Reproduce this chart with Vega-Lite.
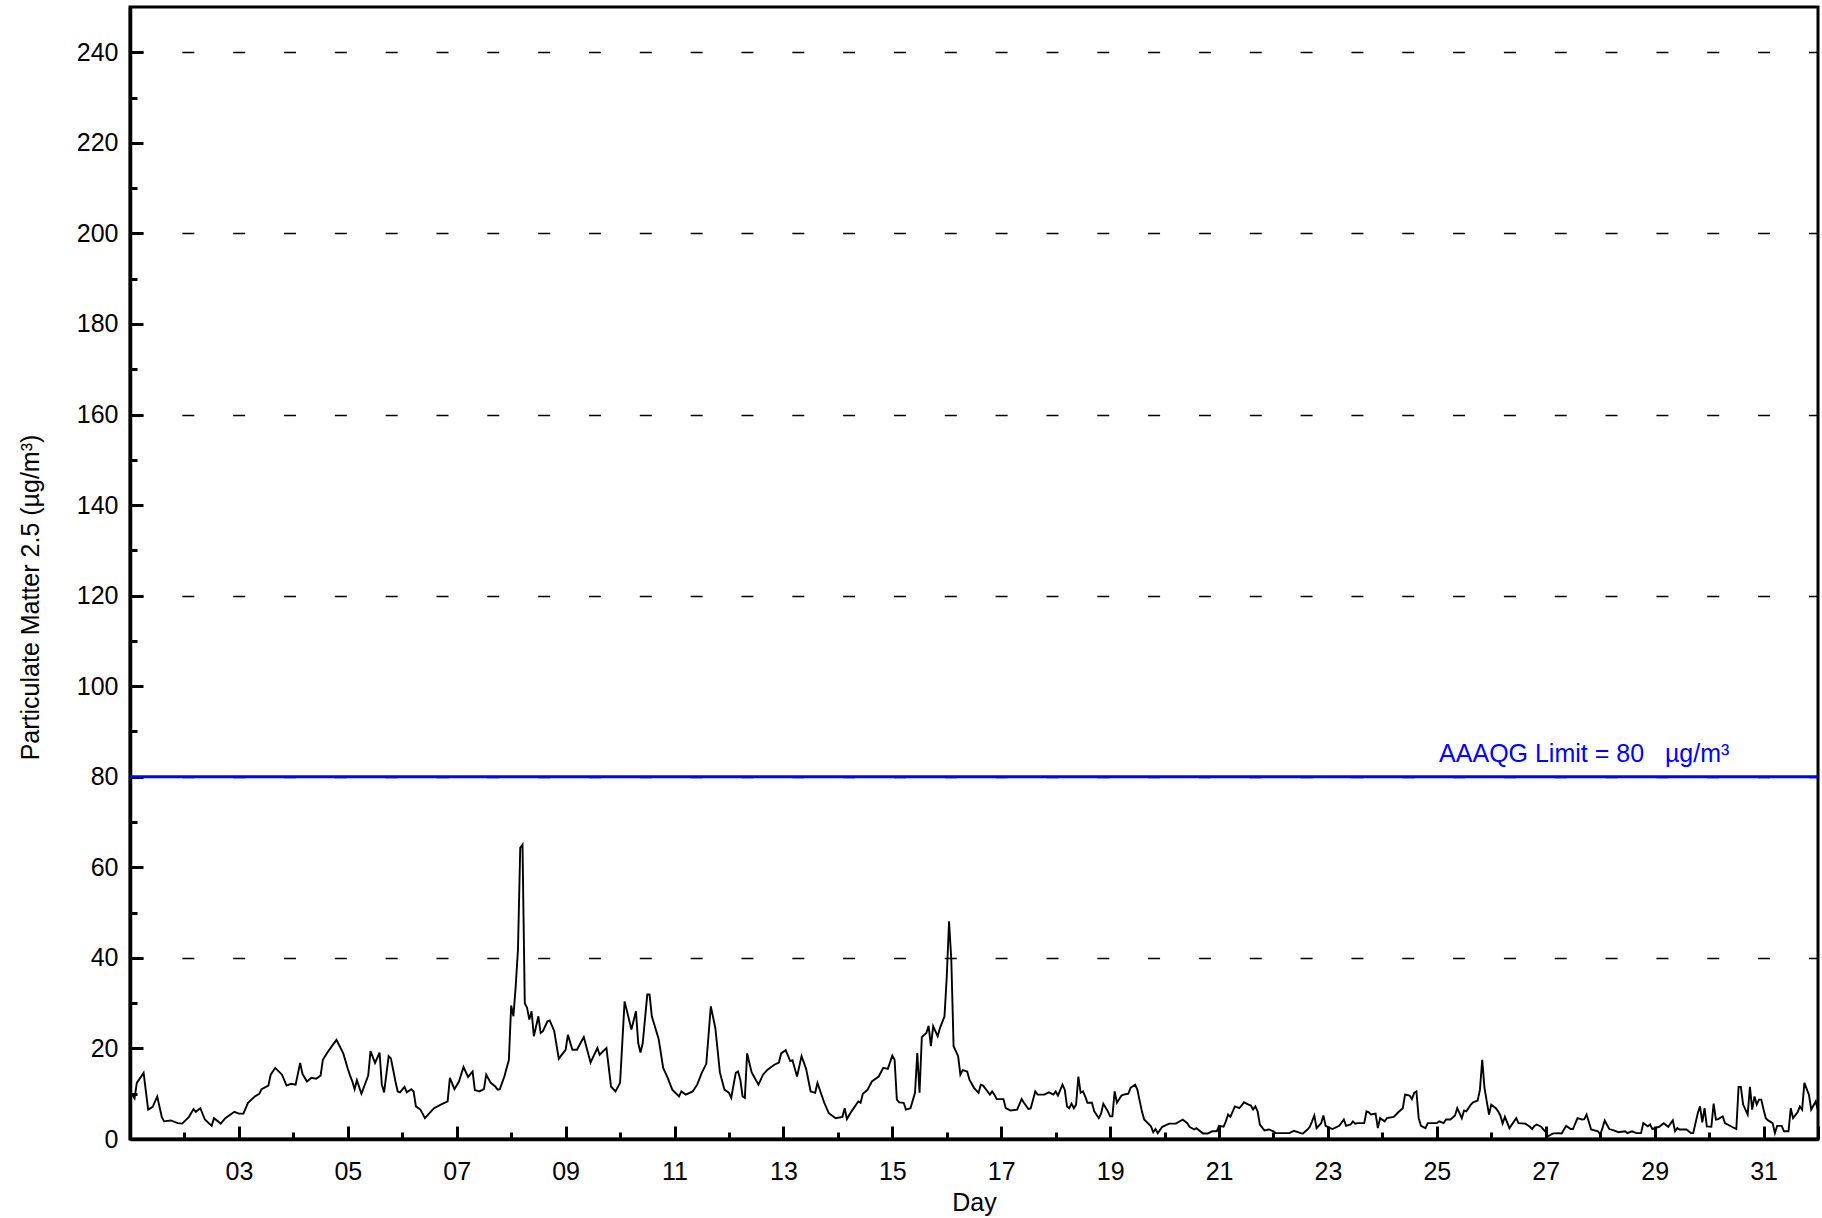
{
  "$schema": "https://vega.github.io/schema/vega-lite/v6.json",
  "width": 1688,
  "height": 1132,
  "autosize": {"type": "none"},
  "padding": {"left": 130, "top": 7, "right": 4, "bottom": 79},
  "background": "white",
  "config": {
    "font": "Liberation Sans",
    "view": {"stroke": "black", "strokeWidth": 3},
    "axis": {
      "domainColor": "black", "domainWidth": 3.5, "tickColor": "black", "tickWidth": 3,
      "labelColor": "black", "titleColor": "black", "labelFontSize": 25, "titleFontSize": 25,
      "titleFontWeight": "normal", "labelFont": "Liberation Sans", "titleFont": "Liberation Sans"
    }
  },
  "datasets": {
    "pm": [
      {"t":"2023-01-01T00:00","v":10.2},{"t":"2023-01-01T01:00","v":9.8},{"t":"2023-01-01T02:00","v":9.0},{"t":"2023-01-01T03:00","v":12.4},{"t":"2023-01-01T06:00","v":14.6},{"t":"2023-01-01T08:00","v":6.5},{"t":"2023-01-01T10:00","v":7.1},{"t":"2023-01-01T12:00","v":9.4},{"t":"2023-01-01T14:00","v":4.9},{"t":"2023-01-01T15:00","v":3.9},{"t":"2023-01-01T18:00","v":4.1},{"t":"2023-01-01T21:00","v":3.5},{"t":"2023-01-01T23:00","v":3.4},
      {"t":"2023-01-02T02:00","v":4.9},{"t":"2023-01-02T04:00","v":6.6},{"t":"2023-01-02T05:00","v":6.0},{"t":"2023-01-02T07:00","v":6.8},{"t":"2023-01-02T09:00","v":4.3},{"t":"2023-01-02T12:00","v":2.9},{"t":"2023-01-02T13:00","v":4.6},{"t":"2023-01-02T16:00","v":3.4},{"t":"2023-01-02T18:00","v":4.6},{"t":"2023-01-02T22:00","v":6.0},
      {"t":"2023-01-03T00:00","v":5.6},{"t":"2023-01-03T02:00","v":5.6},{"t":"2023-01-03T04:00","v":8.0},{"t":"2023-01-03T07:00","v":9.4},{"t":"2023-01-03T09:00","v":10.0},{"t":"2023-01-03T10:00","v":11.0},{"t":"2023-01-03T13:00","v":11.8},{"t":"2023-01-03T14:00","v":14.2},{"t":"2023-01-03T16:00","v":15.7},{"t":"2023-01-03T19:00","v":14.2},{"t":"2023-01-03T21:00","v":11.8},{"t":"2023-01-03T23:00","v":12.2},
      {"t":"2023-01-04T01:00","v":12.0},{"t":"2023-01-04T03:00","v":16.8},{"t":"2023-01-04T04:00","v":14.4},{"t":"2023-01-04T06:00","v":12.7},{"t":"2023-01-04T08:00","v":13.5},{"t":"2023-01-04T10:00","v":13.3},{"t":"2023-01-04T12:00","v":14.0},{"t":"2023-01-04T13:00","v":17.5},{"t":"2023-01-04T15:00","v":19.1},{"t":"2023-01-04T17:00","v":20.5},{"t":"2023-01-04T19:00","v":21.9},{"t":"2023-01-04T22:00","v":18.9},
      {"t":"2023-01-05T00:00","v":15.5},{"t":"2023-01-05T01:00","v":14.0},{"t":"2023-01-05T02:00","v":12.7},{"t":"2023-01-05T03:00","v":11.0},{"t":"2023-01-05T04:00","v":13.0},{"t":"2023-01-05T06:00","v":10.0},{"t":"2023-01-05T09:00","v":14.0},{"t":"2023-01-05T10:00","v":19.4},{"t":"2023-01-05T12:00","v":16.8},{"t":"2023-01-05T14:00","v":19.1},{"t":"2023-01-05T15:00","v":12.0},{"t":"2023-01-05T16:00","v":10.3},{"t":"2023-01-05T18:00","v":18.3},{"t":"2023-01-05T19:00","v":17.8},{"t":"2023-01-05T21:00","v":12.7},{"t":"2023-01-05T22:00","v":10.5},{"t":"2023-01-05T23:00","v":10.3},
      {"t":"2023-01-06T01:00","v":11.5},{"t":"2023-01-06T02:00","v":10.3},{"t":"2023-01-06T04:00","v":11.0},{"t":"2023-01-06T05:00","v":10.5},{"t":"2023-01-06T06:00","v":7.2},{"t":"2023-01-06T08:00","v":6.5},{"t":"2023-01-06T10:00","v":4.6},{"t":"2023-01-06T12:00","v":5.7},{"t":"2023-01-06T14:00","v":6.8},{"t":"2023-01-06T17:00","v":7.6},{"t":"2023-01-06T20:00","v":8.3},{"t":"2023-01-06T21:00","v":13.5},{"t":"2023-01-06T23:00","v":11.0},
      {"t":"2023-01-07T01:00","v":12.7},{"t":"2023-01-07T03:00","v":15.9},{"t":"2023-01-07T05:00","v":13.7},{"t":"2023-01-07T07:00","v":14.9},{"t":"2023-01-07T08:00","v":10.8},{"t":"2023-01-07T10:00","v":10.5},{"t":"2023-01-07T12:00","v":11.0},{"t":"2023-01-07T13:00","v":14.2},{"t":"2023-01-07T15:00","v":12.4},{"t":"2023-01-07T17:00","v":11.6},{"t":"2023-01-07T18:00","v":10.9},{"t":"2023-01-07T19:00","v":11.0},{"t":"2023-01-07T21:00","v":13.8},{"t":"2023-01-07T23:00","v":17.5},
      {"t":"2023-01-08T00:00","v":29.5},{"t":"2023-01-08T01:00","v":27.1},{"t":"2023-01-08T02:00","v":33.7},{"t":"2023-01-08T03:00","v":41.8},{"t":"2023-01-08T04:00","v":64.3},{"t":"2023-01-08T05:00","v":65.0},{"t":"2023-01-08T06:00","v":30.0},{"t":"2023-01-08T07:00","v":29.0},{"t":"2023-01-08T08:00","v":26.4},{"t":"2023-01-08T09:00","v":28.2},{"t":"2023-01-08T10:00","v":22.7},{"t":"2023-01-08T12:00","v":27.1},{"t":"2023-01-08T13:00","v":23.4},{"t":"2023-01-08T14:00","v":23.8},{"t":"2023-01-08T16:00","v":26.0},{"t":"2023-01-08T17:00","v":26.2},{"t":"2023-01-08T19:00","v":23.8},{"t":"2023-01-08T21:00","v":17.7},{"t":"2023-01-08T22:00","v":18.4},
      {"t":"2023-01-09T00:00","v":19.7},{"t":"2023-01-09T01:00","v":23.0},{"t":"2023-01-09T03:00","v":19.7},{"t":"2023-01-09T05:00","v":19.7},{"t":"2023-01-09T08:00","v":22.5},{"t":"2023-01-09T11:00","v":16.9},{"t":"2023-01-09T14:00","v":20.1},{"t":"2023-01-09T15:00","v":18.6},{"t":"2023-01-09T18:00","v":20.1},{"t":"2023-01-09T20:00","v":11.6},{"t":"2023-01-09T22:00","v":10.5},
      {"t":"2023-01-10T00:00","v":12.4},{"t":"2023-01-10T02:00","v":30.4},{"t":"2023-01-10T05:00","v":24.2},{"t":"2023-01-10T07:00","v":28.2},{"t":"2023-01-10T08:00","v":21.2},{"t":"2023-01-10T09:00","v":19.1},{"t":"2023-01-10T10:00","v":21.2},{"t":"2023-01-10T12:00","v":31.9},{"t":"2023-01-10T13:00","v":31.9},{"t":"2023-01-10T14:00","v":27.1},{"t":"2023-01-10T17:00","v":22.1},{"t":"2023-01-10T19:00","v":15.7},{"t":"2023-01-10T21:00","v":13.5},{"t":"2023-01-10T23:00","v":10.9},
      {"t":"2023-01-11T02:00","v":9.4},{"t":"2023-01-11T03:00","v":10.5},{"t":"2023-01-11T05:00","v":9.8},{"t":"2023-01-11T08:00","v":10.5},{"t":"2023-01-11T10:00","v":12.0},{"t":"2023-01-11T12:00","v":14.6},{"t":"2023-01-11T14:00","v":16.6},{"t":"2023-01-11T16:00","v":29.3},{"t":"2023-01-11T18:00","v":24.5},{"t":"2023-01-11T20:00","v":14.7},{"t":"2023-01-11T22:00","v":10.9},
      {"t":"2023-01-12T00:00","v":10.2},{"t":"2023-01-12T01:00","v":9.1},{"t":"2023-01-12T03:00","v":14.6},{"t":"2023-01-12T04:00","v":14.9},{"t":"2023-01-12T05:00","v":13.1},{"t":"2023-01-12T06:00","v":9.4},{"t":"2023-01-12T07:00","v":9.1},{"t":"2023-01-12T08:00","v":18.9},{"t":"2023-01-12T10:00","v":14.7},{"t":"2023-01-12T11:00","v":13.8},{"t":"2023-01-12T13:00","v":12.0},{"t":"2023-01-12T15:00","v":14.2},{"t":"2023-01-12T17:00","v":15.3},{"t":"2023-01-12T20:00","v":16.4},{"t":"2023-01-12T22:00","v":16.9},{"t":"2023-01-12T23:00","v":18.9},
      {"t":"2023-01-13T01:00","v":19.6},{"t":"2023-01-13T03:00","v":17.2},{"t":"2023-01-13T04:00","v":17.4},{"t":"2023-01-13T06:00","v":13.8},{"t":"2023-01-13T08:00","v":18.3},{"t":"2023-01-13T10:00","v":15.5},{"t":"2023-01-13T12:00","v":10.5},{"t":"2023-01-13T14:00","v":10.2},{"t":"2023-01-13T15:00","v":12.4},{"t":"2023-01-13T18:00","v":8.0},{"t":"2023-01-13T20:00","v":5.7},{"t":"2023-01-13T23:00","v":4.6},
      {"t":"2023-01-14T02:00","v":4.9},{"t":"2023-01-14T03:00","v":6.8},{"t":"2023-01-14T04:00","v":4.4},{"t":"2023-01-14T06:00","v":6.1},{"t":"2023-01-14T09:00","v":8.3},{"t":"2023-01-14T10:00","v":8.0},{"t":"2023-01-14T11:00","v":10.0},{"t":"2023-01-14T13:00","v":10.8},{"t":"2023-01-14T15:00","v":12.7},{"t":"2023-01-14T18:00","v":13.8},{"t":"2023-01-14T20:00","v":15.7},{"t":"2023-01-14T22:00","v":15.5},
      {"t":"2023-01-15T00:00","v":18.4},{"t":"2023-01-15T01:00","v":17.5},{"t":"2023-01-15T02:00","v":8.7},{"t":"2023-01-15T03:00","v":8.1},{"t":"2023-01-15T05:00","v":8.0},{"t":"2023-01-15T06:00","v":6.5},{"t":"2023-01-15T08:00","v":6.8},{"t":"2023-01-15T10:00","v":10.2},{"t":"2023-01-15T11:00","v":19.0},{"t":"2023-01-15T12:00","v":10.2},{"t":"2023-01-15T13:00","v":22.5},{"t":"2023-01-15T15:00","v":23.4},{"t":"2023-01-15T16:00","v":25.0},{"t":"2023-01-15T17:00","v":20.5},{"t":"2023-01-15T18:00","v":24.9},{"t":"2023-01-15T20:00","v":22.7},{"t":"2023-01-15T21:00","v":24.5},{"t":"2023-01-15T23:00","v":27.1},
      {"t":"2023-01-16T00:00","v":35.9},{"t":"2023-01-16T01:00","v":48.1},{"t":"2023-01-16T02:00","v":39.6},{"t":"2023-01-16T03:00","v":20.5},{"t":"2023-01-16T05:00","v":18.3},{"t":"2023-01-16T06:00","v":14.2},{"t":"2023-01-16T07:00","v":15.2},{"t":"2023-01-16T09:00","v":14.9},{"t":"2023-01-16T10:00","v":13.1},{"t":"2023-01-16T12:00","v":11.3},{"t":"2023-01-16T14:00","v":10.2},{"t":"2023-01-16T15:00","v":12.0},{"t":"2023-01-16T16:00","v":11.8},{"t":"2023-01-16T18:00","v":10.5},{"t":"2023-01-16T19:00","v":9.8},{"t":"2023-01-16T20:00","v":10.5},{"t":"2023-01-16T21:00","v":9.8},{"t":"2023-01-16T22:00","v":8.8},
      {"t":"2023-01-17T01:00","v":8.8},{"t":"2023-01-17T02:00","v":6.8},{"t":"2023-01-17T04:00","v":6.3},{"t":"2023-01-17T07:00","v":6.5},{"t":"2023-01-17T09:00","v":8.8},{"t":"2023-01-17T10:00","v":8.0},{"t":"2023-01-17T12:00","v":6.6},{"t":"2023-01-17T13:00","v":6.8},{"t":"2023-01-17T15:00","v":10.5},{"t":"2023-01-17T16:00","v":9.8},{"t":"2023-01-17T19:00","v":9.8},{"t":"2023-01-17T21:00","v":10.3},{"t":"2023-01-17T23:00","v":9.8},
      {"t":"2023-01-18T00:00","v":10.5},{"t":"2023-01-18T01:00","v":9.6},{"t":"2023-01-18T03:00","v":12.0},{"t":"2023-01-18T04:00","v":10.9},{"t":"2023-01-18T05:00","v":7.2},{"t":"2023-01-18T06:00","v":6.8},{"t":"2023-01-18T07:00","v":7.8},{"t":"2023-01-18T08:00","v":6.8},{"t":"2023-01-18T09:00","v":7.6},{"t":"2023-01-18T10:00","v":13.8},{"t":"2023-01-18T11:00","v":10.2},{"t":"2023-01-18T12:00","v":10.5},{"t":"2023-01-18T13:00","v":9.4},{"t":"2023-01-18T14:00","v":8.0},{"t":"2023-01-18T16:00","v":8.0},{"t":"2023-01-18T17:00","v":6.1},{"t":"2023-01-18T19:00","v":4.6},{"t":"2023-01-18T20:00","v":5.6},{"t":"2023-01-18T21:00","v":7.8},{"t":"2023-01-18T23:00","v":6.1},
      {"t":"2023-01-19T00:00","v":5.0},{"t":"2023-01-19T01:00","v":5.0},{"t":"2023-01-19T02:00","v":10.5},{"t":"2023-01-19T03:00","v":8.0},{"t":"2023-01-19T05:00","v":9.6},{"t":"2023-01-19T06:00","v":9.8},{"t":"2023-01-19T08:00","v":10.0},{"t":"2023-01-19T09:00","v":11.3},{"t":"2023-01-19T11:00","v":12.0},{"t":"2023-01-19T12:00","v":10.9},{"t":"2023-01-19T14:00","v":6.1},{"t":"2023-01-19T15:00","v":4.3},{"t":"2023-01-19T18:00","v":2.8},{"t":"2023-01-19T19:00","v":1.5},{"t":"2023-01-19T20:00","v":2.2},{"t":"2023-01-19T21:00","v":1.3},{"t":"2023-01-19T23:00","v":2.7},
      {"t":"2023-01-20T02:00","v":3.4},{"t":"2023-01-20T05:00","v":3.4},{"t":"2023-01-20T08:00","v":4.3},{"t":"2023-01-20T10:00","v":3.5},{"t":"2023-01-20T11:00","v":2.7},{"t":"2023-01-20T13:00","v":2.1},{"t":"2023-01-20T14:00","v":2.4},{"t":"2023-01-20T17:00","v":1.2},{"t":"2023-01-20T19:00","v":1.2},{"t":"2023-01-20T21:00","v":1.7},{"t":"2023-01-20T23:00","v":1.7},
      {"t":"2023-01-21T00:00","v":2.9},{"t":"2023-01-21T02:00","v":2.7},{"t":"2023-01-21T03:00","v":3.9},{"t":"2023-01-21T04:00","v":5.4},{"t":"2023-01-21T05:00","v":4.9},{"t":"2023-01-21T07:00","v":7.2},{"t":"2023-01-21T09:00","v":6.8},{"t":"2023-01-21T11:00","v":8.1},{"t":"2023-01-21T13:00","v":7.6},{"t":"2023-01-21T14:00","v":7.4},{"t":"2023-01-21T15:00","v":6.5},{"t":"2023-01-21T16:00","v":7.2},{"t":"2023-01-21T17:00","v":6.1},{"t":"2023-01-21T18:00","v":3.2},{"t":"2023-01-21T20:00","v":1.9},{"t":"2023-01-21T22:00","v":2.1},
      {"t":"2023-01-22T00:00","v":1.7},{"t":"2023-01-22T01:00","v":1.3},{"t":"2023-01-22T07:00","v":1.3},{"t":"2023-01-22T09:00","v":1.8},{"t":"2023-01-22T12:00","v":1.3},{"t":"2023-01-22T13:00","v":1.2},{"t":"2023-01-22T15:00","v":2.1},{"t":"2023-01-22T16:00","v":2.7},{"t":"2023-01-22T17:00","v":3.9},{"t":"2023-01-22T18:00","v":5.2},{"t":"2023-01-22T19:00","v":2.4},{"t":"2023-01-22T21:00","v":3.5},{"t":"2023-01-22T22:00","v":5.2},{"t":"2023-01-22T23:00","v":2.9},
      {"t":"2023-01-23T01:00","v":2.4},{"t":"2023-01-23T02:00","v":2.2},{"t":"2023-01-23T05:00","v":2.9},{"t":"2023-01-23T07:00","v":4.3},{"t":"2023-01-23T08:00","v":2.9},{"t":"2023-01-23T10:00","v":3.2},{"t":"2023-01-23T11:00","v":3.9},{"t":"2023-01-23T12:00","v":3.4},{"t":"2023-01-23T13:00","v":3.5},{"t":"2023-01-23T16:00","v":3.5},{"t":"2023-01-23T17:00","v":6.1},{"t":"2023-01-23T18:00","v":5.9},{"t":"2023-01-23T19:00","v":5.4},{"t":"2023-01-23T21:00","v":5.6},{"t":"2023-01-23T22:00","v":2.4},{"t":"2023-01-23T23:00","v":4.6},
      {"t":"2023-01-24T01:00","v":3.9},{"t":"2023-01-24T02:00","v":4.6},{"t":"2023-01-24T05:00","v":4.9},{"t":"2023-01-24T07:00","v":5.9},{"t":"2023-01-24T09:00","v":6.8},{"t":"2023-01-24T10:00","v":9.8},{"t":"2023-01-24T12:00","v":9.6},{"t":"2023-01-24T13:00","v":8.8},{"t":"2023-01-24T14:00","v":10.2},{"t":"2023-01-24T15:00","v":10.5},{"t":"2023-01-24T16:00","v":4.6},{"t":"2023-01-24T17:00","v":2.9},{"t":"2023-01-24T19:00","v":2.4},{"t":"2023-01-24T20:00","v":3.5},
      {"t":"2023-01-25T00:00","v":3.5},{"t":"2023-01-25T01:00","v":3.9},{"t":"2023-01-25T03:00","v":3.5},{"t":"2023-01-25T04:00","v":4.3},{"t":"2023-01-25T06:00","v":4.3},{"t":"2023-01-25T08:00","v":5.2},{"t":"2023-01-25T09:00","v":6.8},{"t":"2023-01-25T11:00","v":4.6},{"t":"2023-01-25T12:00","v":6.3},{"t":"2023-01-25T13:00","v":6.1},{"t":"2023-01-25T15:00","v":7.6},{"t":"2023-01-25T16:00","v":8.1},{"t":"2023-01-25T18:00","v":8.5},{"t":"2023-01-25T19:00","v":10.9},{"t":"2023-01-25T20:00","v":17.5},{"t":"2023-01-25T21:00","v":11.3},{"t":"2023-01-25T22:00","v":8.3},{"t":"2023-01-25T23:00","v":5.4},
      {"t":"2023-01-26T00:00","v":7.6},{"t":"2023-01-26T02:00","v":6.8},{"t":"2023-01-26T03:00","v":6.1},{"t":"2023-01-26T04:00","v":5.2},{"t":"2023-01-26T05:00","v":3.4},{"t":"2023-01-26T06:00","v":4.9},{"t":"2023-01-26T08:00","v":2.4},{"t":"2023-01-26T11:00","v":4.6},{"t":"2023-01-26T12:00","v":3.5},{"t":"2023-01-26T15:00","v":3.4},{"t":"2023-01-26T17:00","v":2.7},{"t":"2023-01-26T18:00","v":2.2},{"t":"2023-01-26T19:00","v":2.9},{"t":"2023-01-26T20:00","v":3.2},{"t":"2023-01-26T22:00","v":2.7},
      {"t":"2023-01-27T00:00","v":1.5},{"t":"2023-01-27T01:00","v":0.6},{"t":"2023-01-27T03:00","v":1.2},{"t":"2023-01-27T05:00","v":1.3},{"t":"2023-01-27T07:00","v":1.2},{"t":"2023-01-27T09:00","v":2.9},{"t":"2023-01-27T11:00","v":2.2},{"t":"2023-01-27T12:00","v":2.2},{"t":"2023-01-27T14:00","v":4.6},{"t":"2023-01-27T16:00","v":4.3},{"t":"2023-01-27T17:00","v":4.4},{"t":"2023-01-27T18:00","v":5.4},{"t":"2023-01-27T20:00","v":2.1},{"t":"2023-01-27T23:00","v":1.7},
      {"t":"2023-01-28T00:00","v":1.0},{"t":"2023-01-28T01:00","v":2.4},{"t":"2023-01-28T02:00","v":4.1},{"t":"2023-01-28T04:00","v":2.2},{"t":"2023-01-28T06:00","v":1.9},{"t":"2023-01-28T08:00","v":1.5},{"t":"2023-01-28T11:00","v":1.7},{"t":"2023-01-28T12:00","v":1.3},{"t":"2023-01-28T14:00","v":1.7},{"t":"2023-01-28T16:00","v":1.3},{"t":"2023-01-28T18:00","v":1.3},{"t":"2023-01-28T19:00","v":3.5},{"t":"2023-01-28T21:00","v":2.8},{"t":"2023-01-28T22:00","v":3.2},{"t":"2023-01-28T23:00","v":2.2},
      {"t":"2023-01-29T00:00","v":2.4},{"t":"2023-01-29T02:00","v":2.7},{"t":"2023-01-29T04:00","v":3.5},{"t":"2023-01-29T06:00","v":2.7},{"t":"2023-01-29T08:00","v":4.1},{"t":"2023-01-29T09:00","v":1.7},{"t":"2023-01-29T10:00","v":2.4},{"t":"2023-01-29T11:00","v":2.1},{"t":"2023-01-29T14:00","v":2.1},{"t":"2023-01-29T16:00","v":1.3},{"t":"2023-01-29T17:00","v":1.3},{"t":"2023-01-29T19:00","v":5.7},{"t":"2023-01-29T20:00","v":7.2},{"t":"2023-01-29T21:00","v":3.7},{"t":"2023-01-29T22:00","v":6.8},{"t":"2023-01-29T23:00","v":2.8},
      {"t":"2023-01-30T01:00","v":2.7},{"t":"2023-01-30T02:00","v":7.8},{"t":"2023-01-30T03:00","v":4.3},{"t":"2023-01-30T04:00","v":4.4},{"t":"2023-01-30T06:00","v":5.0},{"t":"2023-01-30T07:00","v":3.5},{"t":"2023-01-30T10:00","v":2.7},{"t":"2023-01-30T12:00","v":2.2},{"t":"2023-01-30T13:00","v":11.5},{"t":"2023-01-30T14:00","v":11.5},{"t":"2023-01-30T15:00","v":7.6},{"t":"2023-01-30T17:00","v":5.4},{"t":"2023-01-30T18:00","v":11.5},{"t":"2023-01-30T19:00","v":6.5},{"t":"2023-01-30T20:00","v":9.4},{"t":"2023-01-30T21:00","v":7.6},{"t":"2023-01-30T22:00","v":8.7},{"t":"2023-01-30T23:00","v":8.7},
      {"t":"2023-01-31T00:00","v":6.5},{"t":"2023-01-31T01:00","v":4.6},{"t":"2023-01-31T02:00","v":4.1},{"t":"2023-01-31T04:00","v":3.5},{"t":"2023-01-31T05:00","v":1.3},{"t":"2023-01-31T06:00","v":2.9},{"t":"2023-01-31T08:00","v":2.9},{"t":"2023-01-31T09:00","v":1.7},{"t":"2023-01-31T11:00","v":1.7},{"t":"2023-01-31T12:00","v":6.8},{"t":"2023-01-31T13:00","v":4.6},{"t":"2023-01-31T15:00","v":5.9},{"t":"2023-01-31T16:00","v":7.2},{"t":"2023-01-31T17:00","v":6.5},{"t":"2023-01-31T18:00","v":12.4},{"t":"2023-01-31T20:00","v":9.8},{"t":"2023-01-31T21:00","v":6.5},{"t":"2023-01-31T23:00","v":8.3},
      {"t":"2023-02-01T00:00","v":6.3}
    ]
  },
  "layer": [
    {
      "data": {"name": "pm"},
      "mark": {"type": "line", "color": "black", "strokeWidth": 1.9, "clip": true},
      "encoding": {
        "x": {
          "field": "t", "type": "temporal",
          "scale": {"domain": [{"year": 2023, "month": 1, "date": 1, "hours": 0}, {"year": 2023, "month": 2, "date": 1, "hours": 0}], "nice": false},
          "axis": {
            "tickCount": {"interval": "day", "step": 1},
            "tickSize": {"condition": {"test": "date(datum.value) % 2 === 1", "value": -13}, "value": -7},
            "labelExpr": "date(datum.value) % 2 === 1 && date(datum.value) > 1 ? timeFormat(datum.value, '%d') : ''",
            "labelPadding": 33,
            "labelOverlap": false,
            "labelFlush": false,
            "grid": false,
            "title": "Day",
            "titleY": 71,
            "titleBaseline": "alphabetic"
          }
        },
        "y": {
          "field": "v", "type": "quantitative",
          "scale": {"domain": [0, 250], "nice": false, "zero": true},
          "axis": {
            "values": [0,10,20,30,40,50,60,70,80,90,100,110,120,130,140,150,160,170,180,190,200,210,220,230,240],
            "tickSize": {"condition": {"test": "datum.value % 20 === 0", "value": -13}, "value": -7},
            "labelExpr": "datum.value % 20 === 0 ? datum.label : ''",
            "labelPadding": 25,
            "labelOverlap": false,
            "labelFlush": false,
            "grid": true,
            "gridColor": "black",
            "gridWidth": 1.5,
            "gridDash": [12, 38.83],
            "gridDashOffset": -1,
            "gridOpacity": {"condition": {"test": "datum.value % 40 === 0 && datum.value > 0", "value": 1}, "value": 0},
            "title": "Particulate Matter 2.5 (µg/m³)",
            "titleX": -92,
            "titleY": 590,
            "titleAngle": -90,
            "titleBaseline": "alphabetic",
            "titleAlign": "center"
          }
        }
      }
    },
    {
      "data": {"values": [{"limit": 80}]},
      "mark": {"type": "rule", "color": "#0000ff", "strokeWidth": 3},
      "encoding": {"y": {"field": "limit", "type": "quantitative"}}
    },
    {
      "data": {"values": [{"t": "2023-01-25T01:00", "limit": 80, "label": "AAAQG Limit = 80\u00a0\u00a0\u00a0µg/m³"}]},
      "mark": {"type": "text", "color": "#0000ff", "fontSize": 25, "font": "Liberation Sans", "align": "left", "baseline": "alphabetic", "dy": -15},
      "encoding": {
        "x": {"field": "t", "type": "temporal"},
        "y": {"field": "limit", "type": "quantitative"},
        "text": {"field": "label"}
      }
    }
  ]
}
